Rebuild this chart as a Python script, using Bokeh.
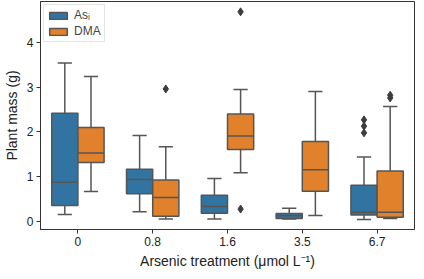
from bokeh.plotting import figure
from bokeh.models import ColumnDataSource, FactorRange, Range1d, Legend, LegendItem, FixedTicker
from bokeh.transform import dodge
from bokeh.embed import file_html
from bokeh.resources import INLINE

treatments = ["0", "0.8", "1.6", "3.5", "6.7"]

as_lower = [0.16, 0.22, 0.06, 0.06, 0.05]
as_q1    = [0.36, 0.62, 0.19, 0.07, 0.15]
as_med   = [0.88, 0.94, 0.34, 0.13, 0.21]
as_q3    = [2.42, 1.17, 0.59, 0.18, 0.81]
as_upper = [3.54, 1.92, 0.96, 0.30, 1.44]

dma_lower = [0.67, 0.06, 1.09, 0.14, 0.07]
dma_q1    = [1.32, 0.12, 1.61, 0.68, 0.10]
dma_med   = [1.53, 0.54, 1.91, 1.16, 0.21]
dma_q3    = [2.10, 0.93, 2.40, 1.79, 1.13]
dma_upper = [3.24, 1.67, 2.95, 2.90, 2.57]

as_flier_treat = ["6.7", "6.7", "6.7"]
as_flier_val = [2.27, 2.13, 1.98]
dma_flier_treat = ["0.8", "1.6", "1.6", "6.7", "6.7"]
dma_flier_val = [2.96, 4.68, 0.28, 2.82, 2.76]

BLUE = "#3274a1"
ORANGE = "#e1812c"
LINE = "#555555"
FONT = "Liberation Sans"

p = figure(width=416, height=271, output_backend="svg", toolbar_location=None,
           x_range=FactorRange(*treatments, range_padding=0), y_range=Range1d(-0.175, 4.91),
           min_border_left=0, min_border_right=2, min_border_top=1, min_border_bottom=0)
p.x_range.factor_padding = 0
p.grid.visible = False
p.background_fill_color = "white"
p.outline_line_color = "#333333"
p.outline_line_width = 1

hw = 0.175
cap = 0.095

legend_items = []
for vals, off, color, name in [
    ((as_lower, as_q1, as_med, as_q3, as_upper), -hw, BLUE, "Asᵢ"),
    ((dma_lower, dma_q1, dma_med, dma_q3, dma_upper), hw, ORANGE, "DMA"),
]:
    lo, q1, med, q3, up = vals
    src = ColumnDataSource(dict(t=treatments, lo=lo, q1=q1, med=med, q3=q3, up=up))
    xc = dodge("t", off, range=p.x_range)
    p.segment(x0=xc, y0="q3", x1=xc, y1="up", source=src, line_color=LINE, line_width=1.5)
    p.segment(x0=xc, y0="q1", x1=xc, y1="lo", source=src, line_color=LINE, line_width=1.5)
    p.segment(x0=dodge("t", off - cap, range=p.x_range), y0="up",
              x1=dodge("t", off + cap, range=p.x_range), y1="up", source=src, line_color=LINE, line_width=1.5)
    p.segment(x0=dodge("t", off - cap, range=p.x_range), y0="lo",
              x1=dodge("t", off + cap, range=p.x_range), y1="lo", source=src, line_color=LINE, line_width=1.5)
    r = p.vbar(x=xc, width=2 * hw, bottom="q1", top="q3", source=src,
               fill_color=color, line_color=LINE, line_width=1.5)
    p.segment(x0=dodge("t", off - hw, range=p.x_range), y0="med",
              x1=dodge("t", off + hw, range=p.x_range), y1="med", source=src, line_color=LINE, line_width=1.5)
    legend_items.append(LegendItem(label=name, renderers=[r]))

for tr, vl, off in [(as_flier_treat, as_flier_val, -hw), (dma_flier_treat, dma_flier_val, hw)]:
    fs = ColumnDataSource(dict(t=tr, v=vl))
    p.scatter(x=dodge("t", off, range=p.x_range), y="v", source=fs, marker="diamond",
              size=8, fill_color="#3d3d3d", line_color="#3d3d3d")

legend = Legend(items=legend_items, location="top_left",
                label_text_font=FONT, label_text_font_size="12px",
                glyph_width=22, glyph_height=9, spacing=2, padding=3, margin=3,
                label_standoff=5, label_height=12,
                border_line_color="#cccccc", border_line_width=1, background_fill_alpha=0.85)
p.add_layout(legend)

p.yaxis.ticker = FixedTicker(ticks=[0, 1, 2, 3, 4])
for ax in (p.xaxis[0], p.yaxis[0]):
    ax.axis_line_color = "#333333"
    ax.major_tick_line_color = "#333333"
    ax.major_tick_out = 4
    ax.major_tick_in = 0
    ax.minor_tick_line_color = None
    ax.major_label_text_font = FONT
    ax.major_label_text_font_size = "12px"
    ax.major_label_text_color = "#222222"
    ax.axis_label_text_font = FONT
    ax.axis_label_text_font_size = "14px"
    ax.axis_label_text_font_style = "normal"
    ax.axis_label_text_color = "#222222"
    ax.major_label_standoff = 3
    ax.axis_label_standoff = 4

p.xaxis.axis_label = "Arsenic treatment (μmol L⁻¹)"
p.yaxis.axis_label = "Plant mass (g)"

open("out.html", "w").write(file_html(p, INLINE))
